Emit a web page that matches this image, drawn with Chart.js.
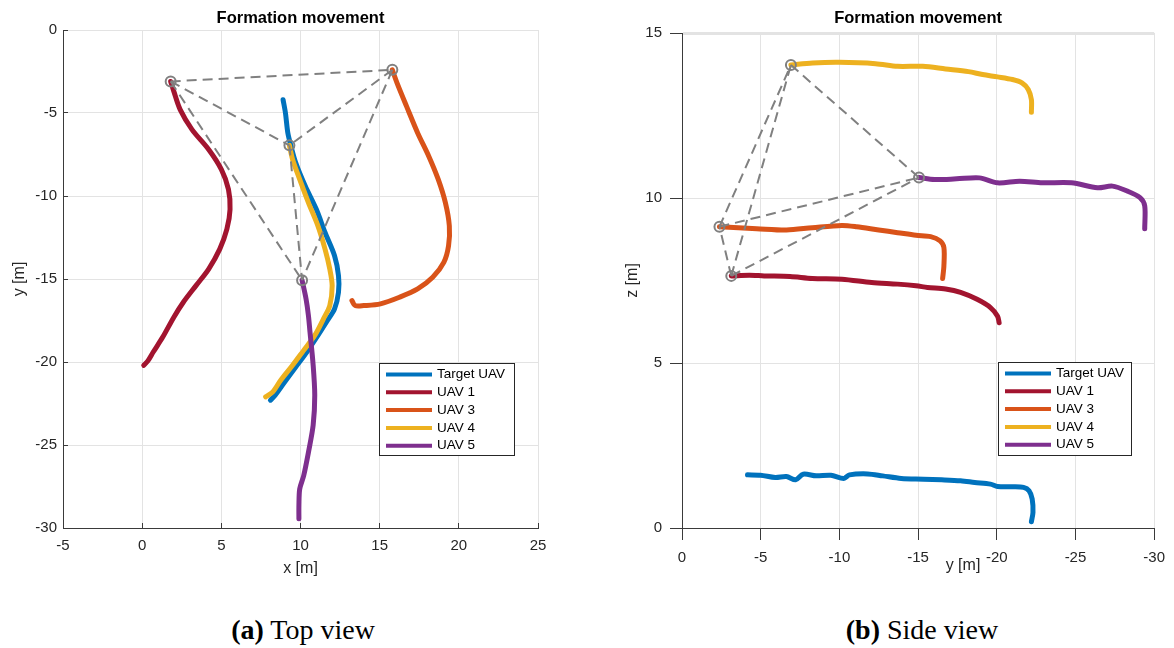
<!DOCTYPE html>
<html>
<head>
<meta charset="utf-8">
<script src="https://cdn.jsdelivr.net/npm/chart.js@4.4.1/dist/chart.umd.min.js"></script>
<style>
body { margin: 0; background: #fff; width: 1174px; height: 648px; position: relative; overflow: hidden; }
.plot { position: absolute; top: 0; width: 587px; height: 600px; }
.cap { position: absolute; top: 612px; line-height: 36px; font-family: "Liberation Serif", serif; font-size: 28px; color: #000; white-space: nowrap; transform: translateX(-50%); }
</style>
</head>
<body>
<div class="plot" style="left:0"><canvas id="topView" width="587" height="600"></canvas></div>
<div class="plot" style="left:587px"><canvas id="sideView" width="587" height="600"></canvas></div>
<div class="cap" style="left:303px"><b>(a)</b> Top view</div>
<div class="cap" style="left:922px"><b>(b)</b> Side view</div>
<script>
// series names/colours (same in both views)
const seriesNames = ['Target UAV', 'UAV 1', 'UAV 3', 'UAV 4', 'UAV 5'];
const seriesColors = ['#0072BD', '#A2142F', '#D95319', '#EDB120', '#7E2F8E'];

// top view: [x, y] in metres
const topTarget = [[8.9,-4.2],[9.05,-5.0],[9.2,-6.2],[9.4,-7.0],[9.7,-8.0],[10.3,-9.4],[11.0,-10.8],[11.55,-12.2],[12.15,-13.6],[12.4,-14.8],[12.4,-15.8],[12.15,-16.8],[11.7,-17.5],[11.1,-18.4],[10.4,-19.4],[9.7,-20.3],[9.0,-21.2],[8.4,-22.0],[8.1,-22.3]];
const topUav1 = [[1.8,-3.1],[2.0,-3.7],[2.4,-4.8],[3.15,-6.0],[4.2,-7.2],[5.0,-8.4],[5.45,-9.6],[5.55,-10.8],[5.35,-12.0],[4.9,-13.2],[4.2,-14.4],[3.4,-15.4],[2.6,-16.4],[2.0,-17.3],[1.3,-18.5],[0.7,-19.4],[0.35,-19.95],[0.1,-20.2]];
const topUav3 = [[15.8,-2.4],[16.1,-3.2],[16.7,-4.6],[17.4,-6.2],[18.1,-7.6],[18.7,-9.0],[19.15,-10.4],[19.4,-11.8],[19.35,-13.0],[19.05,-14.0],[18.35,-14.9],[17.4,-15.6],[16.25,-16.1],[15.05,-16.5],[14.0,-16.6],[13.45,-16.6],[13.25,-16.3]];
const topUav4 = [[9.3,-6.95],[9.5,-7.8],[9.95,-9.0],[10.5,-10.4],[11.1,-11.8],[11.55,-13.2],[11.85,-14.4],[12.0,-15.4],[11.85,-16.6],[11.45,-17.4],[10.9,-18.4],[10.2,-19.3],[9.5,-20.2],[8.75,-21.1],[8.25,-21.8],[7.8,-22.1]];
const topUav5 = [[10.1,-15.07],[10.35,-16.2],[10.5,-17.2],[10.6,-18.2],[10.8,-20.2],[10.9,-22.0],[10.8,-23.8],[10.5,-25.45],[10.2,-26.85],[9.95,-27.65],[9.9,-28.65],[9.9,-29.45]];
// formation start points: UAV 1, UAV 3, UAV 4, UAV 5
const topFormation = [[1.8,-3.1],[15.8,-2.4],[9.3,-6.95],[10.1,-15.07]];

// side view: [y, z] in metres
const sideTarget = [[-4.16,1.61],[-4.99,1.6],[-5.93,1.53],[-6.64,1.56],[-7.22,1.46],[-7.7,1.63],[-8.52,1.58],[-9.46,1.6],[-10.28,1.5],[-10.64,1.61],[-11.8,1.64],[-12.75,1.58],[-13.93,1.5],[-15.34,1.48],[-16.5,1.46],[-17.7,1.43],[-18.6,1.38],[-19.6,1.33],[-20.05,1.26],[-21.0,1.25],[-21.7,1.23],[-22.05,1.13],[-22.25,0.88],[-22.3,0.47],[-22.2,0.19]];
const sideUav1 = [[-3.13,7.64],[-4.28,7.66],[-5.22,7.64],[-6.87,7.62],[-8.28,7.56],[-10.16,7.54],[-12.05,7.44],[-13.7,7.39],[-14.87,7.34],[-15.6,7.29],[-16.75,7.24],[-17.7,7.14],[-18.75,6.93],[-19.6,6.68],[-20.05,6.42],[-20.15,6.22]];
const sideUav3 = [[-2.38,9.13],[-3.58,9.1],[-4.75,9.07],[-6.64,9.03],[-8.28,9.1],[-10.16,9.17],[-11.1,9.13],[-12.5,9.03],[-13.7,8.95],[-14.87,8.87],[-15.8,8.83],[-16.4,8.7],[-16.64,8.5],[-16.64,7.94],[-16.56,7.56]];
const sideUav4 = [[-6.92,14.03],[-8.3,14.09],[-10.0,14.11],[-12.3,14.07],[-13.7,13.99],[-15.3,13.99],[-16.75,13.91],[-18.2,13.83],[-19.1,13.74],[-20.05,13.67],[-21.0,13.59],[-21.6,13.49],[-22.0,13.29],[-22.2,12.98],[-22.2,12.6]];
const sideUav5 = [[-15.06,10.62],[-16.05,10.56],[-17.45,10.58],[-18.9,10.61],[-20.05,10.46],[-21.45,10.51],[-22.9,10.46],[-24.75,10.46],[-26.4,10.31],[-27.35,10.36],[-28.3,10.21],[-29.1,10.01],[-29.4,9.76],[-29.4,9.07]];
const sideFormation = [[-3.13,7.64],[-2.38,9.13],[-6.92,14.03],[-15.06,10.62]];

// dashed links between formation members (indices into formation arrays)
const edges = [[0,1],[0,2],[0,3],[1,2],[1,3],[2,3]];

Chart.defaults.font.family = '"Liberation Sans", Arial, sans-serif';
const axisColor = '#3a3a3a';
const gridColor = '#e3e3e3';

function toPts(arr) {
    return arr.map(p => ({ x: p[0], y: p[1] }));
}

function buildDatasets(tracks, formation) {
    const ds = tracks.map((t, i) => ({
        label: seriesNames[i],
        data: toPts(t),
        showLine: true,
        borderColor: seriesColors[i],
        backgroundColor: seriesColors[i],
        borderWidth: 5,
        pointRadius: 0,
        tension: 0.3,
        borderCapStyle: 'round',
        borderJoinStyle: 'round',
        order: 10 - i
    }));
    edges.forEach(e => ds.push({
        data: toPts([formation[e[0]], formation[e[1]]]),
        showLine: true,
        borderColor: '#808080',
        borderWidth: 2,
        borderDash: [10, 6],
        pointRadius: 0,
        order: 2
    }));
    ds.push({
        data: toPts(formation),
        showLine: false,
        pointRadius: 5,
        pointBorderWidth: 2,
        pointBorderColor: '#808080',
        pointBackgroundColor: 'rgba(0,0,0,0)',
        order: 1
    });
    return ds;
}

// legend box drawn inside the plot area, like matlab
const boxLegend = {
    id: 'boxLegend',
    afterDatasetsDraw(chart, args, o) {
        const ctx = chart.ctx, a = chart.chartArea;
        const items = chart.data.datasets.filter(d => d.label);
        const x = Math.round(a.left + o.dx), y = Math.round(a.top + o.dy);
        ctx.save();
        ctx.fillStyle = '#fff';
        ctx.fillRect(x, y, o.w, o.h);
        ctx.strokeStyle = '#262626';
        ctx.lineWidth = 1;
        ctx.strokeRect(x + 0.5, y + 0.5, o.w, o.h);
        ctx.font = '13.5px "Liberation Sans", Arial, sans-serif';
        ctx.textBaseline = 'middle';
        items.forEach((d, i) => {
            const cy = y + 11.5 + i * 17.8;
            ctx.strokeStyle = d.borderColor;
            ctx.lineWidth = 4;
            ctx.beginPath();
            ctx.moveTo(x + 7, cy);
            ctx.lineTo(x + 53, cy);
            ctx.stroke();
            ctx.fillStyle = '#000';
            ctx.fillText(d.label, x + 58, cy);
        });
        ctx.restore();
    }
};

// title over the plot area and an optional free x label
const frameText = {
    id: 'frameText',
    afterDraw(chart, args, o) {
        const ctx = chart.ctx, a = chart.chartArea;
        ctx.save();
        ctx.textAlign = 'center';
        ctx.textBaseline = 'middle';
        ctx.fillStyle = '#000';
        ctx.font = 'bold 16.5px "Liberation Sans", Arial, sans-serif';
        ctx.fillText(o.title, (a.left + a.right) / 2, o.titleY);
        if (o.xLabel) {
            ctx.fillStyle = '#262626';
            ctx.font = '16px "Liberation Sans", Arial, sans-serif';
            ctx.fillText(o.xLabel, a.left + o.xLabelDx, o.xLabelY);
        }
        ctx.restore();
    }
};

const tickFont = { size: 15 };
const titleFont = { size: 16 };

new Chart(document.getElementById('topView'), {
    type: 'scatter',
    data: { datasets: buildDatasets([topTarget, topUav1, topUav3, topUav4, topUav5], topFormation) },
    options: {
        responsive: false,
        animation: false,
        devicePixelRatio: 1,
        layout: { padding: { left: 0, right: 49, top: 30, bottom: 0 } },
        plugins: {
            legend: { display: false },
            tooltip: { enabled: false },
            boxLegend: { dx: 316, dy: 333, w: 135, h: 92 },
            frameText: { title: 'Formation movement', titleY: 18 }
        },
        scales: {
            x: {
                type: 'linear', min: -5, max: 25,
                ticks: { stepSize: 5, color: '#262626', font: tickFont, padding: 14 },
                grid: { color: gridColor, tickColor: axisColor, tickLength: -5 },
                border: { color: axisColor },
                title: { display: true, text: 'x [m]', color: '#262626', font: titleFont, padding: { top: 0, bottom: 22 } },
                afterFit: s => { s.height = 72; }
            },
            y: {
                type: 'linear', min: -30, max: 0,
                ticks: { stepSize: 5, color: '#262626', font: tickFont, padding: 11 },
                grid: { color: gridColor, tickColor: axisColor, tickLength: -5 },
                border: { color: axisColor },
                title: { display: true, text: 'y [m]', color: '#262626', font: titleFont, padding: { top: 10, bottom: 0 } },
                afterFit: s => { s.width = 63; }
            }
        }
    },
    plugins: [boxLegend, frameText]
});

new Chart(document.getElementById('sideView'), {
    type: 'scatter',
    data: { datasets: buildDatasets([sideTarget, sideUav1, sideUav3, sideUav4, sideUav5], sideFormation) },
    options: {
        responsive: false,
        animation: false,
        devicePixelRatio: 1,
        layout: { padding: { left: 0, right: 17, top: 33, bottom: 0 } },
        plugins: {
            legend: { display: false },
            tooltip: { enabled: false },
            boxLegend: { dx: 316, dy: 329, w: 133, h: 93 },
            frameText: { title: 'Formation movement', titleY: 18, xLabel: 'y [m]', xLabelDx: 281, xLabelY: 566 }
        },
        scales: {
            x: {
                type: 'linear', min: -30, max: 0, reverse: true,
                ticks: { stepSize: 5, color: '#262626', font: tickFont, padding: 9 },
                grid: { color: gridColor, tickColor: axisColor, tickLength: 12, tickWidth: 1 },
                border: { color: axisColor },
                title: { display: false },
                afterFit: s => { s.height = 72; }
            },
            y: {
                type: 'linear', min: 0, max: 15,
                ticks: { stepSize: 5, color: '#262626', font: tickFont, padding: 8 },
                grid: { color: gridColor, tickColor: axisColor, tickLength: 12, tickWidth: 1,
                        lineWidth: c => (c.tick && c.tick.value === 15 ? 3 : 1) },
                border: { color: axisColor },
                title: { display: true, text: 'z [m]', color: '#262626', font: titleFont, padding: { top: 36, bottom: 0 } },
                afterFit: s => { s.width = 95; }
            }
        }
    },
    plugins: [boxLegend, frameText]
});
</script>
</body>
</html>
